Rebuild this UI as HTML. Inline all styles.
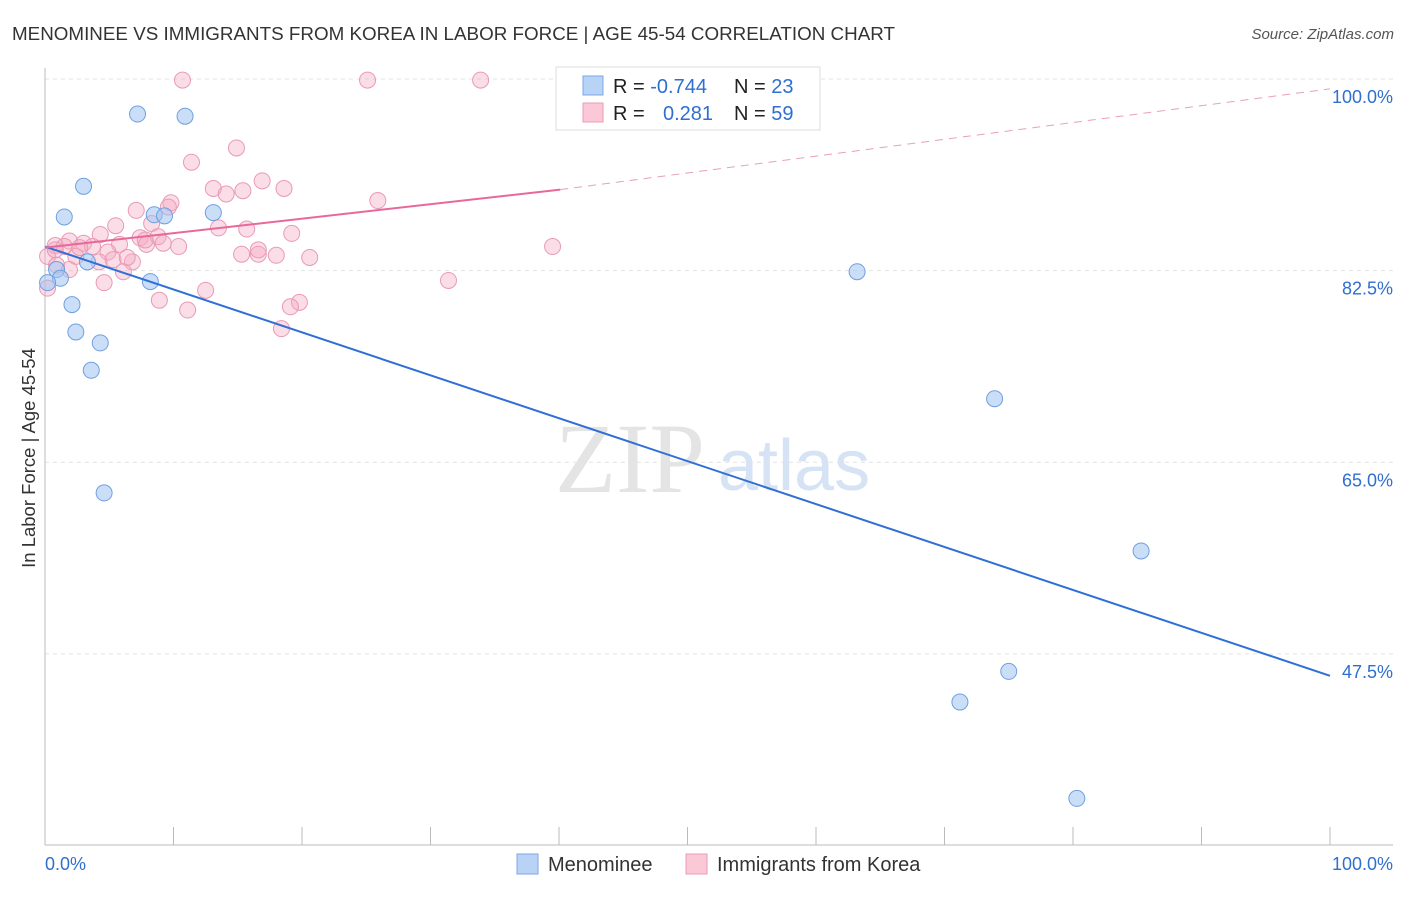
<!DOCTYPE html>
<html><head><meta charset="utf-8"><style>
body{margin:0;background:#fff;font-family:"Liberation Sans",sans-serif}
</style></head><body>
<svg id="chart" width="1406" height="892" xmlns="http://www.w3.org/2000/svg" font-family="Liberation Sans, sans-serif">
<text x="12" y="40" font-size="18.6" fill="#333" textLength="883" lengthAdjust="spacingAndGlyphs">MENOMINEE VS IMMIGRANTS FROM KOREA IN LABOR FORCE | AGE 45-54 CORRELATION CHART</text>
<text x="1394" y="39" font-size="15" fill="#555" font-style="italic" text-anchor="end">Source: ZipAtlas.com</text>
<text x="35" y="458" font-size="18.5" fill="#333" text-anchor="middle" transform="rotate(-90 35 458)">In Labor Force | Age 45-54</text>
<g id="grid"></g>
<text x="555" y="492" font-size="100" fill="#e4e4e4" font-family="Liberation Serif, serif">ZIP</text>
<text x="718" y="490" font-size="72" fill="#d5e3f5">atlas</text>
<g id="axes"></g>
<g id="marks"></g>
<g>
<rect x="556" y="67" width="264" height="63" fill="#fff" stroke="#ddd"/>
<rect x="583" y="76" width="20" height="19" fill="#b8d3f5" stroke="#7aa8e6"/>
<rect x="583" y="103" width="20" height="19" fill="#fbc8d7" stroke="#ea9db6"/>
<text x="613" y="93" font-size="20" fill="#222">R = <tspan fill="#2f6fd0">-0.744</tspan></text>
<text x="734" y="93" font-size="20" fill="#222">N = <tspan fill="#2f6fd0">23</tspan></text>
<text x="613" y="120" font-size="20" fill="#222">R = <tspan fill="#2f6fd0" x="663">0.281</tspan></text>
<text x="734" y="120" font-size="20" fill="#222">N = <tspan fill="#2f6fd0">59</tspan></text>
</g>
<g>
<rect x="517" y="854" width="21" height="20" fill="#b8d3f5" stroke="#7aa8e6"/>
<text x="548" y="871" font-size="20" fill="#333">Menominee</text>
<rect x="686" y="854" width="21" height="20" fill="#fbc8d7" stroke="#ea9db6"/>
<text x="717" y="871" font-size="20" fill="#333">Immigrants from Korea</text>
</g>
</svg>
<script>
const blueX=[7.2,10.9,3.0,1.5,8.5,9.3,13.1,3.3,0.9,1.2,0.2,8.2,2.1,2.4,4.3,3.6,4.6,63.2,73.9,85.3,75.0,71.2,80.3];
const blueY=[96.8,96.6,90.2,87.4,87.6,87.5,87.8,83.3,82.6,81.8,81.4,81.5,79.4,76.9,75.9,73.4,62.2,82.4,70.8,56.9,45.9,43.1,34.3];
const pinkX=[10.7,25.1,33.9,14.9,11.4,16.9,13.1,18.6,15.4,14.1,25.9,9.8,9.6,7.1,5.5,13.5,15.7,19.2,8.3,4.3,7.4,8.8,1.9,3.0,0.8,1.5,3.7,5.8,9.2,10.4,7.9,39.5,4.9,15.3,16.6,18.0,20.6,16.6,0.2,2.4,5.3,6.8,6.4,0.9,1.9,6.1,4.6,12.5,31.4,8.9,11.1,19.8,19.1,18.4,0.2,0.8,2.7,7.8,4.2];
const pinkY=[99.9,99.9,99.9,93.7,92.4,90.7,90.0,90.0,89.8,89.5,88.9,88.7,88.3,88.0,86.6,86.4,86.3,85.9,86.8,85.8,85.5,85.6,85.2,85.0,84.8,84.7,84.7,84.9,85.0,84.7,84.9,84.7,84.2,84.0,84.0,83.9,83.7,84.4,83.8,83.8,83.5,83.3,83.7,83.0,82.6,82.4,81.4,80.7,81.6,79.8,78.9,79.6,79.2,77.2,80.9,84.4,84.6,85.3,83.3];
const blueLineX=[0,100], blueLineY=[84.7,45.5];
const pinkLineX=[0,40.1,100], pinkLineY=[84.6,89.9,99.1];
const yTicks=[100,82.5,65,47.5];
const yTickLabels=["100.0%","82.5%","65.0%","47.5%"];
const xTicks=[0,10,20,30,40,50,60,70,80,90,100];
const NS="http://www.w3.org/2000/svg";
const sx=v=>45+v*12.85, sy=v=>79+(100-v)*10.95;
function mk(tag,a,parent){const e=document.createElementNS(NS,tag);for(const k in a)e.setAttribute(k,a[k]);document.getElementById(parent).appendChild(e);return e;}
yTicks.forEach((t,i)=>{
 const l=mk('line',{x1:45,x2:1393,y1:sy(t),y2:sy(t),stroke:'#e3e3e3','stroke-dasharray':'4 4'},'grid');
 
 
 const tx=mk('text',{x:1393,y:sy(t)+24,'font-size':18,fill:'#2f6fd0','text-anchor':'end'},'grid');
 tx.textContent=yTickLabels[i];
 
 
});
let ax=mk('line',{x1:45,x2:1393,y1:845,y2:845,stroke:'#bbb'},'axes');


let ay=mk('line',{x1:45,x2:45,y1:68,y2:845,stroke:'#bbb'},'axes');


xTicks.forEach(t=>{const l=mk('line',{x1:sx(t),x2:sx(t),y1:827,y2:845,stroke:'#bbb'},'axes');
 
 });
let t0=mk('text',{x:45,y:870,'font-size':18,fill:'#2f6fd0'},'axes');t0.textContent='0.0%';


let t1=mk('text',{x:1393,y:870,'font-size':18,fill:'#2f6fd0','text-anchor':'end'},'axes');t1.textContent='100.0%';


pinkX.forEach((x,i)=>{const c=mk('circle',{cx:sx(x),cy:sy(pinkY[i]),r:8,fill:'rgba(245,170,195,0.4)',stroke:'#e99ab4','stroke-width':1},'marks');
 
 });
blueX.forEach((x,i)=>{const c=mk('circle',{cx:sx(x),cy:sy(blueY[i]),r:8,fill:'rgba(160,195,240,0.55)',stroke:'#6f9fe0','stroke-width':1},'marks');
 
 });
let bl=mk('line',{x1:sx(blueLineX[0]),y1:sy(blueLineY[0]),x2:sx(blueLineX[1]),y2:sy(blueLineY[1]),stroke:'#2f6fd6','stroke-width':2},'marks');


let pl=mk('line',{x1:sx(pinkLineX[0]),y1:sy(pinkLineY[0]),x2:sx(pinkLineX[1]),y2:sy(pinkLineY[1]),stroke:'#e8689a','stroke-width':2},'marks');


let pd=mk('line',{x1:sx(pinkLineX[1]),y1:sy(pinkLineY[1]),x2:sx(pinkLineX[2]),y2:sy(pinkLineY[2]),stroke:'#e8a0b8','stroke-width':1,'stroke-dasharray':'8 6'},'marks');


</script>
</body></html>
